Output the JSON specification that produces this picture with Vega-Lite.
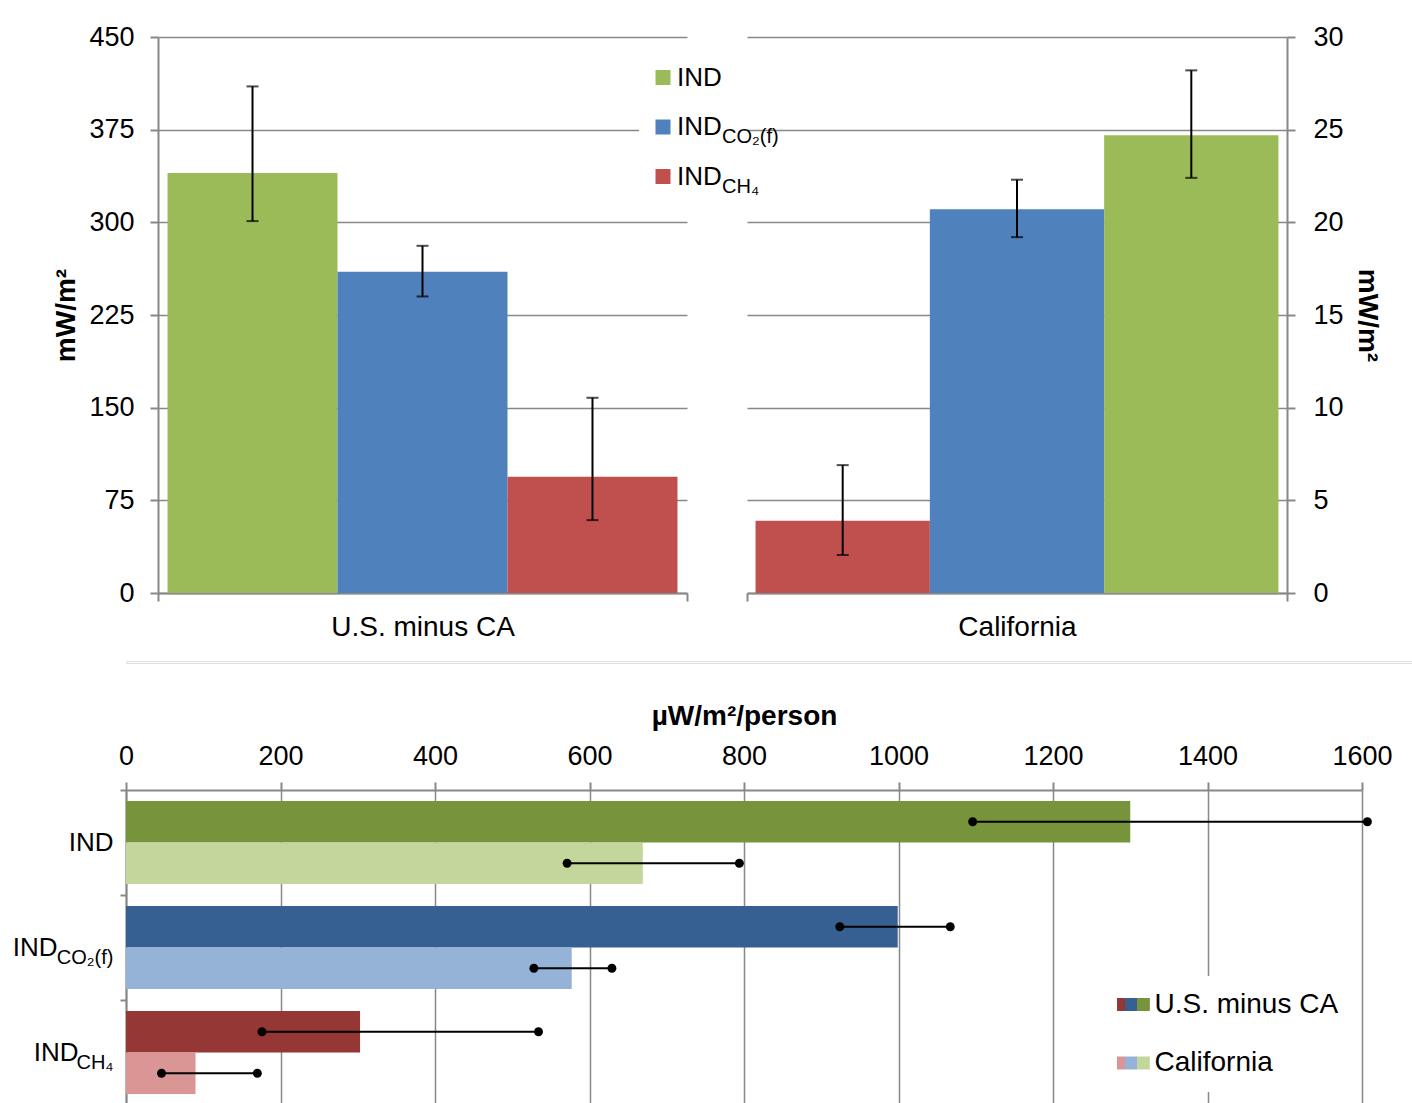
{
  "$schema": "https://vega.github.io/schema/vega-lite/v6.json",
  "padding": {"top": 23, "left": 12, "right": 0, "bottom": 0},
  "config": {
    "font": "Liberation Sans",
    "view": {"stroke": null},
    "axis": {"labelFont": "Liberation Sans", "titleFont": "Liberation Sans", "labelColor": "black", "titleColor": "black", "domainColor": "#888888", "tickColor": "#888888", "gridColor": "#888888"},
    "legend": {"labelFont": "Liberation Sans", "labelColor": "black"}
  },
  "datasets": {
    "topUS": [
      {"region": "U.S. minus CA", "type": "IND", "sub": " ", "value": 340, "lo": 301, "hi": 410},
      {"region": "U.S. minus CA", "type": "IND_CO2(f)", "sub": "CO₂(f)", "value": 260, "lo": 240, "hi": 281},
      {"region": "U.S. minus CA", "type": "IND_CH4", "sub": "CH₄", "value": 94, "lo": 59, "hi": 158}
    ],
    "topCA": [
      {"region": "California", "type": "IND_CH4", "sub": "CH₄", "value": 3.9, "lo": 2.05, "hi": 6.9},
      {"region": "California", "type": "IND_CO2(f)", "sub": "CO₂(f)", "value": 20.7, "lo": 19.2, "hi": 22.3},
      {"region": "California", "type": "IND", "sub": " ", "value": 24.7, "lo": 22.4, "hi": 28.2}
    ],
    "bottom": [
      {"type": "IND", "region": "U.S. minus CA", "key": "IND|US", "value": 1300, "lo": 1096, "hi": 1607},
      {"type": "IND", "region": "California", "key": "IND|CA", "value": 669, "lo": 571, "hi": 794},
      {"type": "IND_CO2(f)", "region": "U.S. minus CA", "key": "CO2|US", "value": 999, "lo": 924, "hi": 1067},
      {"type": "IND_CO2(f)", "region": "California", "key": "CO2|CA", "value": 577, "lo": 528, "hi": 629},
      {"type": "IND_CH4", "region": "U.S. minus CA", "key": "CH4|US", "value": 303, "lo": 176, "hi": 534},
      {"type": "IND_CH4", "region": "California", "key": "CH4|CA", "value": 90, "lo": 46, "hi": 170}
    ],
    "spacer": [{"t": ""}]
  },
  "spacing": 34,
  "resolve": {"scale": {"fill": "independent", "opacity": "independent", "xOffset": "independent", "yOffset": "independent"}, "legend": {"fill": "independent", "opacity": "independent"}},
  "vconcat": [
    {
      "spacing": 14,
      "resolve": {"scale": {"fill": "independent", "opacity": "independent", "xOffset": "independent"}, "legend": {"fill": "independent", "opacity": "independent"}},
      "vconcat": [
        {
          "spacing": -75,
          "resolve": {"scale": {"fill": "independent", "opacity": "independent", "xOffset": "independent"}, "legend": {"fill": "independent", "opacity": "independent"}},
          "hconcat": [
            {
              "width": 1,
              "height": 1,
              "data": {"name": "spacer"},
              "mark": {"type": "text"},
              "encoding": {"text": {"field": "t", "type": "nominal"}}
            },
            {
              "spacing": -49,
              "resolve": {"scale": {"fill": "independent", "opacity": "independent", "xOffset": "independent"}, "legend": {"fill": "independent", "opacity": "independent"}},
              "hconcat": [
                {
                  "width": 529,
                  "height": 556,
                  "data": {"name": "topUS"},
                  "encoding": {
                    "x": {"field": "region", "type": "nominal", "title": null,
                      "scale": {"paddingInner": 0, "paddingOuter": 0},
                      "axis": {"title": null, "labelAngle": 0, "labelFontSize": 28, "labelLimit": 500, "labelPadding": 12, "tickBand": "extent", "tickSize": 8, "tickWidth": 2, "domainWidth": 2, "grid": false}},
                    "xOffset": {"field": "type", "type": "nominal",
                      "scale": {"domain": ["IND", "IND_CO2(f)", "IND_CH4"], "paddingInner": 0, "paddingOuter": 0.056}}
                  },
                  "layer": [
                    {
                      "mark": {"type": "bar"},
                      "encoding": {
                        "y": {"field": "value", "type": "quantitative", "title": "mW/m²",
                          "scale": {"domain": [0, 450], "nice": false},
                          "axis": {"title": "mW/m²", "titleFontSize": 28, "titleFontWeight": "bold", "titlePadding": 8,
                            "values": [0, 75, 150, 225, 300, 375, 450], "labelFontSize": 27, "labelPadding": 16, "labelFlush": false, "labelOverlap": false,
                            "tickSize": 8, "tickWidth": 2, "domainWidth": 2, "grid": true, "gridWidth": 1.5}},
                        "fill": {"field": "type", "type": "nominal",
                          "scale": {"domain": ["IND", "IND_CO2(f)", "IND_CH4"], "range": ["#9BBB59", "#4F81BD", "#C0504D"]}, "legend": null}
                      }
                    },
                    {
                      "mark": {"type": "rule", "color": "black", "strokeWidth": 2},
                      "encoding": {"y": {"field": "lo", "type": "quantitative", "title": "mW/m²"}, "y2": {"field": "hi"}}
                    },
                    {
                      "mark": {"type": "tick", "color": "black", "thickness": 2, "size": 12},
                      "encoding": {"y": {"field": "lo", "type": "quantitative", "title": "mW/m²"}}
                    },
                    {
                      "mark": {"type": "tick", "color": "black", "thickness": 2, "size": 12},
                      "encoding": {"y": {"field": "hi", "type": "quantitative", "title": "mW/m²"}}
                    }
                  ]
                },
                {
                  "width": 540,
                  "height": 556,
                  "data": {"name": "topCA"},
                  "encoding": {
                    "x": {"field": "region", "type": "nominal", "title": null,
                      "scale": {"paddingInner": 0, "paddingOuter": 0},
                      "axis": {"title": null, "labelAngle": 0, "labelFontSize": 28, "labelLimit": 500, "labelPadding": 12, "tickBand": "extent", "tickSize": 8, "tickWidth": 2, "domainWidth": 2, "grid": false}},
                    "xOffset": {"field": "type", "type": "nominal",
                      "scale": {"domain": ["IND_CH4", "IND_CO2(f)", "IND"], "paddingInner": 0, "paddingOuter": 0.049}}
                  },
                  "layer": [
                    {
                      "mark": {"type": "bar"},
                      "encoding": {
                        "y": {"field": "value", "type": "quantitative", "title": "mW/m²",
                          "scale": {"domain": [0, 30], "nice": false},
                          "axis": {"orient": "right", "title": "mW/m²", "titleFontSize": 28, "titleFontWeight": "bold", "titlePadding": 9,
                            "values": [0, 5, 10, 15, 20, 25, 30], "labelFontSize": 27, "labelPadding": 18, "labelFlush": false, "labelOverlap": false,
                            "tickSize": 8, "tickWidth": 2, "domainWidth": 2, "grid": true, "gridWidth": 1.5}},
                        "fill": {"field": "type", "type": "nominal",
                          "scale": {"domain": ["IND", "IND_CO2(f)", "IND_CH4"], "range": ["#9BBB59", "#4F81BD", "#C0504D"]},
                          "legend": {"orient": "none", "legendX": -108, "legendY": 14.5, "title": null, "symbolType": "square", "symbolSize": 225, "symbolStrokeWidth": 0,
                            "labelFontSize": 26, "labelOffset": 1, "labelLimit": 400, "labelExpr": "'IND' + '          '", "clipHeight": 30, "rowPadding": 19.5,
                            "padding": 11, "fillColor": "white", "zindex": 0}},
                        "opacity": {"field": "sub", "type": "nominal",
                          "scale": {"domain": [" ", "CO₂(f)", "CH₄"], "range": [1, 1, 1]},
                          "legend": {"orient": "none", "legendX": -108, "legendY": 24.5, "title": null, "symbolType": "square", "symbolSize": 225, "symbolStrokeWidth": 0,
                            "symbolFillColor": "transparent", "symbolStrokeColor": "transparent",
                            "labelFontSize": 20, "labelOffset": 52, "labelLimit": 400, "clipHeight": 30, "rowPadding": 19.5, "padding": 11, "zindex": 1,
                            "encoding": {"symbols": {"opacity": {"value": 0}, "fill": {"value": "transparent"}, "stroke": {"value": "transparent"}, "fillOpacity": {"value": 0}}}}}
                      }
                    },
                    {
                      "mark": {"type": "rule", "color": "black", "strokeWidth": 2},
                      "encoding": {"y": {"field": "lo", "type": "quantitative", "title": "mW/m²"}, "y2": {"field": "hi"}}
                    },
                    {
                      "mark": {"type": "tick", "color": "black", "thickness": 2, "size": 12},
                      "encoding": {"y": {"field": "lo", "type": "quantitative", "title": "mW/m²"}}
                    },
                    {
                      "mark": {"type": "tick", "color": "black", "thickness": 2, "size": 12},
                      "encoding": {"y": {"field": "hi", "type": "quantitative", "title": "mW/m²"}}
                    }
                  ]
                }
              ]
            }
          ]
        },
        {
          "width": 1286,
          "height": 2,
          "view": {"stroke": "#dedede", "strokeWidth": 1},
          "data": {"name": "spacer"},
          "mark": {"type": "text"},
          "encoding": {"text": {"field": "t", "type": "nominal"}}
        }
      ]
    },
    {
      "width": 1236,
      "height": 315,
      "data": {"name": "bottom"},
      "resolve": {"axis": {"y": "independent"}},
      "encoding": {
        "yOffset": {"field": "region", "type": "nominal",
          "scale": {"domain": ["U.S. minus CA", "California"], "paddingInner": 0, "paddingOuter": 0.265}}
      },
      "layer": [
        {
          "mark": {"type": "bar"},
          "encoding": {
            "y": {"field": "type", "type": "nominal", "title": null,
              "scale": {"domain": ["IND", "IND_CO2(f)", "IND_CH4"], "paddingInner": 0, "paddingOuter": 0},
              "axis": {"title": null, "labelExpr": "datum.label === '' ? '' : 'IND'", "labelFontSize": 26, "labelPadding": 13, "labelAlign": "right",
                "ticks": false, "domain": false, "grid": false,
                "encoding": {"labels": {"dx": {"value": {"expr": "datum.value === 'IND_CO2(f)' ? -56 : datum.value === 'IND_CH4' ? -35 : 0"}}}}}},
            "x": {"field": "value", "type": "quantitative", "title": "µW/m²/person",
              "scale": {"domain": [0, 1600], "nice": false},
              "axis": {"orient": "top", "title": "µW/m²/person", "titleFontSize": 28, "titleFontWeight": "bold", "titlePadding": 12, "format": "d",
                "values": [0, 200, 400, 600, 800, 1000, 1200, 1400, 1600], "labelFontSize": 27, "labelPadding": 12, "labelFlush": false, "labelOverlap": false,
                "tickSize": 8, "tickWidth": 2, "domainWidth": 2, "grid": true, "gridWidth": 1.5}},
            "fill": {"field": "key", "type": "nominal",
              "scale": {"domain": ["IND|US", "IND|CA", "CO2|US", "CO2|CA", "CH4|US", "CH4|CA"],
                "range": ["#77933C", "#C3D69B", "#376092", "#95B3D7", "#953735", "#D99694"]}, "legend": null},
            "opacity": {"field": "region", "type": "nominal",
              "scale": {"domain": ["U.S. minus CA", "California"], "range": [1, 1]},
              "legend": {"orient": "none", "legendX": 977.5, "legendY": 186, "title": null,
                "symbolType": "M-2.9,-1H2.9V1H-2.9Z", "symbolSize": 169, "symbolStrokeWidth": 0,
                "labelFontSize": 28, "labelOffset": 9.5, "labelLimit": 400, "clipHeight": 30, "rowPadding": 28.5, "padding": 13.5, "fillColor": "white",
                "encoding": {"symbols": {
                  "opacity": {"value": 1},
                  "fill": {"value": {"expr": "datum.value === 'U.S. minus CA' ? {gradient: 'linear', x1: 0, y1: 0, x2: 1, y2: 0, stops: [{offset: 0, color: '#953735'}, {offset: 0.333, color: '#953735'}, {offset: 0.334, color: '#376092'}, {offset: 0.666, color: '#376092'}, {offset: 0.667, color: '#77933C'}, {offset: 1, color: '#77933C'}]} : {gradient: 'linear', x1: 0, y1: 0, x2: 1, y2: 0, stops: [{offset: 0, color: '#D99694'}, {offset: 0.333, color: '#D99694'}, {offset: 0.334, color: '#95B3D7'}, {offset: 0.666, color: '#95B3D7'}, {offset: 0.667, color: '#C3D69B'}, {offset: 1, color: '#C3D69B'}]}"}}
                }}}}
          }
        },
        {
          "mark": {"type": "rule", "color": "black", "strokeWidth": 2},
          "encoding": {
            "y": {"field": "type", "type": "nominal", "title": null,
              "scale": {"domain": ["IND", "IND_CO2(f)", "IND_CH4"], "paddingInner": 0, "paddingOuter": 0},
              "axis": {"orient": "left", "title": null, "labelExpr": "datum.value === 'IND_CO2(f)' ? 'CO₂(f)' : datum.value === 'IND_CH4' ? 'CH₄' : ''",
                "labelFontSize": 20, "labelPadding": 7, "labelOffset": 10, "labelAlign": "right",
                "ticks": true, "tickSize": 6, "tickWidth": 2, "tickBand": "extent", "domain": true, "domainWidth": 2, "grid": false}},
            "x": {"field": "lo", "type": "quantitative", "title": "µW/m²/person"},
            "x2": {"field": "hi"}
          }
        },
        {
          "mark": {"type": "point", "filled": true, "color": "black", "size": 80, "opacity": 1},
          "encoding": {
            "y": {"field": "type", "type": "nominal", "axis": null},
            "x": {"field": "lo", "type": "quantitative", "title": "µW/m²/person"}
          }
        },
        {
          "mark": {"type": "point", "filled": true, "color": "black", "size": 80, "opacity": 1},
          "encoding": {
            "y": {"field": "type", "type": "nominal", "axis": null},
            "x": {"field": "hi", "type": "quantitative", "title": "µW/m²/person"}
          }
        }
      ]
    }
  ]
}
